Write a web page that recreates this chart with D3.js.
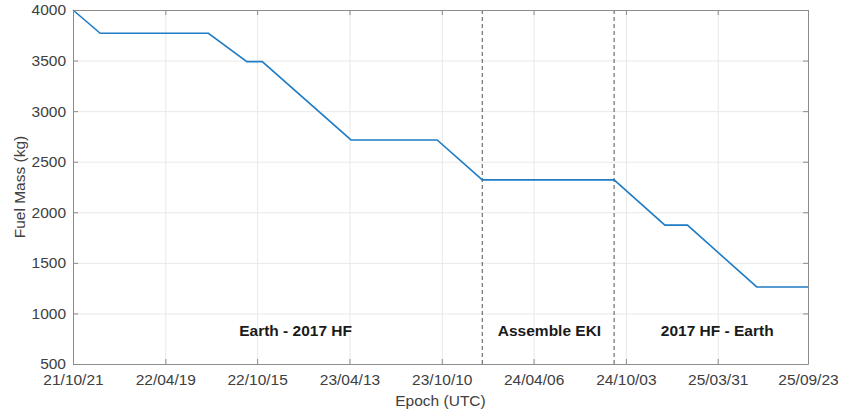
<!DOCTYPE html>
<html>
<head>
<meta charset="utf-8">
<script src="https://cdn.jsdelivr.net/npm/d3@7"></script>
<style>
  body { margin: 0; background: #fff; }
  text { font-family: "Liberation Sans", Arial, sans-serif; }
</style>
</head>
<body>
<div id="chart-area"></div>
<script>
// Data
const epochs = ['2021-10-21', '2021-12-13', '2022-07-12', '2022-09-25', '2022-10-25',
  '2023-04-16', '2023-10-01', '2023-12-28', '2024-09-10', '2024-12-18',
  '2025-01-31', '2025-06-15', '2025-09-23'];
const fuelMass = [4000, 3770, 3770, 3490, 3490, 2715, 2715, 2320, 2320, 1873, 1873, 1262, 1262];

const tickDates = ['2021-10-21', '2022-04-19', '2022-10-15', '2023-04-13', '2023-10-10',
  '2024-04-06', '2024-10-03', '2025-03-31', '2025-09-23'];
const tickLabels = ['21/10/21', '22/04/19', '22/10/15', '23/04/13', '23/10/10',
  '24/04/06', '24/10/03', '25/03/31', '25/09/23'];
const yTicks = [500, 1000, 1500, 2000, 2500, 3000, 3500, 4000];

const phaseBreaks = ['2023-12-28', '2024-09-10'];
const phaseNames = ['Earth - 2017 HF', 'Assemble EKI', '2017 HF - Earth'];
const phaseLabelDates = ['2022-12-29', '2024-05-07', '2025-03-30'];

const parse = d3.utcParse('%Y-%m-%d');
const data = epochs.map((d, i) => ({ t: parse(d), v: fuelMass[i] }));

const margin = { top: 10, right: 36, bottom: 55, left: 73 };
const width = 844 - margin.left - margin.right;
const height = 419 - margin.top - margin.bottom;

const x = d3.scaleUtc()
  .domain([parse(epochs[0]), parse(epochs[epochs.length - 1])])
  .range([0, width]);
const y = d3.scaleLinear()
  .domain([500, 4000])
  .range([height, 0]);

const svg = d3.select('#chart-area')
  .append('svg')
  .attr('width', 844)
  .attr('height', 419);

const chart = svg.append('g')
  .attr('transform', 'translate(' + margin.left + ',' + margin.top + ')');

const axisColor = '#8c8c8c';
const textColor = '#404040';
const tickVals = tickDates.map(parse);

// grid
chart.append('g')
  .attr('class', 'x-grid')
  .attr('transform', 'translate(0,' + height + ')')
  .call(d3.axisBottom(x).tickValues(tickVals).tickSize(-height).tickFormat(''))
  .call(g => g.select('.domain').remove())
  .selectAll('line').attr('stroke', '#e8e8e8');

chart.append('g')
  .attr('class', 'y-grid')
  .call(d3.axisLeft(y).tickValues(yTicks).tickSize(-width).tickFormat(''))
  .call(g => g.select('.domain').remove())
  .selectAll('line').attr('stroke', '#e8e8e8');

// phase separators
chart.selectAll('.phase-line')
  .data(phaseBreaks)
  .enter().append('line')
  .attr('class', 'phase-line')
  .attr('x1', d => x(parse(d)))
  .attr('x2', d => x(parse(d)))
  .attr('y1', 0)
  .attr('y2', height)
  .attr('stroke', '#6e6e6e')
  .attr('stroke-width', 1.2)
  .style('stroke-dasharray', '4, 3');

// fuel line
chart.append('path')
  .datum(data)
  .attr('fill', 'none')
  .attr('stroke', '#1f7cc4')
  .attr('stroke-width', 1.6)
  .attr('d', d3.line().x(d => x(d.t)).y(d => y(d.v)));

// phase labels
chart.selectAll('.phase-label')
  .data(phaseNames)
  .enter().append('text')
  .attr('class', 'phase-label')
  .attr('x', (d, i) => x(parse(phaseLabelDates[i])))
  .attr('y', y(830))
  .attr('dy', '0.35em')
  .attr('text-anchor', 'middle')
  .attr('font-weight', 'bold')
  .attr('font-size', '15.5px')
  .attr('fill', '#1a1a1a')
  .text(d => d);

// axes (ticks point inward, box all round)
const xAxis = d3.axisBottom(x).tickValues(tickVals)
  .tickFormat((d, i) => tickLabels[i]).tickSizeInner(-5).tickSizeOuter(0).tickPadding(10);
const yAxis = d3.axisLeft(y).tickValues(yTicks).tickFormat(d3.format('d'))
  .tickSizeInner(-5).tickSizeOuter(0).tickPadding(7);

const styleAxis = g => {
  g.select('.domain').attr('stroke', axisColor);
  g.selectAll('line').attr('stroke', axisColor);
  g.selectAll('text').attr('fill', textColor).style('font-size', '15.5px');
};

chart.append('g')
  .attr('class', 'x-axis')
  .attr('transform', 'translate(0,' + height + ')')
  .call(xAxis).call(styleAxis);

chart.append('g')
  .attr('class', 'y-axis')
  .call(yAxis).call(styleAxis);

chart.append('g')
  .attr('class', 'x-axis-top')
  .call(d3.axisTop(x).tickValues(tickVals).tickFormat('').tickSizeInner(-5).tickSizeOuter(0))
  .call(styleAxis);

chart.append('g')
  .attr('class', 'y-axis-right')
  .attr('transform', 'translate(' + width + ',0)')
  .call(d3.axisRight(y).tickValues(yTicks).tickFormat('').tickSizeInner(-5).tickSizeOuter(0))
  .call(styleAxis);

// axis titles
svg.append('text')
  .attr('x', margin.left + width / 2)
  .attr('y', 406)
  .attr('text-anchor', 'middle')
  .attr('fill', textColor)
  .attr('font-size', '15.5px')
  .text('Epoch (UTC)');

svg.append('text')
  .attr('transform', 'translate(25,' + (margin.top + height / 2) + ') rotate(-90)')
  .attr('text-anchor', 'middle')
  .attr('fill', textColor)
  .attr('font-size', '15.5px')
  .text('Fuel Mass (kg)');
</script>
</body>
</html>
